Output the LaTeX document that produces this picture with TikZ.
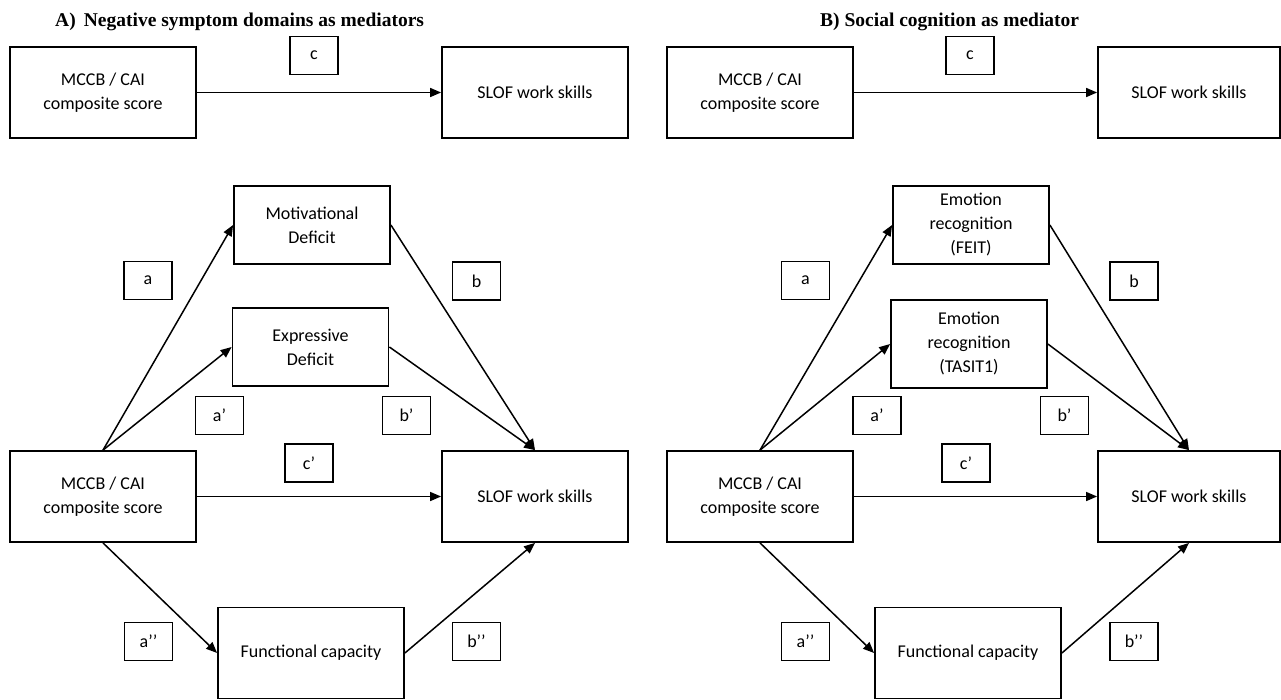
\documentclass[tikz,border=0pt]{standalone}
\usepackage{fontspec}
\setmainfont{Carlito}
\newfontfamily\titlefont{Liberation Serif}
\usetikzlibrary{arrows.meta}
\tikzset{
  bigbox/.style={draw, line width=1.8pt, minimum width=186pt, minimum height=91pt,
    align=center, inner sep=0pt, font=\fontsize{18}{24}\selectfont},
  medbox/.style={draw, line width=1.8pt, minimum width=156pt, minimum height=78pt,
    align=center, inner sep=0pt, font=\fontsize{18}{24}\selectfont},
  lbl/.style={draw, line width=1.6pt, minimum width=48pt, minimum height=38pt,
    inner sep=0pt, font=\fontsize{18}{20}\selectfont},
  arr/.style={-{Triangle[length=11pt,width=9pt]}, line width=1.5pt},
  ttl/.style={font=\titlefont\bfseries\fontsize{19.5}{22}\selectfont, anchor=base west, inner sep=0pt}
}
\begin{document}
\begin{tikzpicture}[x=1pt,y=1pt]
\useasboundingbox[fill=white] (0,0) rectangle (1281,-699);

% ---------- Panel A ----------
\node[ttl] (titleA) at (55,-26) {A)\, Negative symptom domains as mediators};
\node[bigbox] (mccbTA) at (103,-92.5) {MCCB / CAI\\composite score};
\node[bigbox] (slofTA) at (535,-92.5) {SLOF work skills};
\node[lbl] (cA) at (314,-55.5) {c};
\draw[arr] (mccbTA) -- (slofTA);

\node[medbox] (motA) at (312,-225) {Motivational\\Deficit};
\node[medbox] (expA) at (310.5,-347) {Expressive\\Deficit};
\node[lbl] (aA) at (148,-280.5) {a};
\node[lbl] (bA) at (476.5,-281) {b};
\node[lbl] (apA) at (219.5,-415.5) {a’};
\node[lbl] (bpA) at (406.5,-415.5) {b’};
\node[lbl] (cpA) at (309,-463) {c’};
\node[bigbox] (mccbBA) at (103,-496.5) {MCCB / CAI\\composite score};
\node[bigbox] (slofBA) at (535,-496.5) {SLOF work skills};
\node[bigbox] (funcA) at (311,-653) {Functional capacity};
\node[lbl] (appA) at (148.5,-641.5) {a’’};
\node[lbl] (bppA) at (476.5,-641.5) {b’’};

\draw[arr] (mccbBA.north) -- (motA.west);
\draw[arr] (mccbBA.north) -- (expA.west);
\draw[arr] (motA.east) -- (slofBA.north);
\draw[arr] (expA.east) -- (slofBA.north);
\draw[arr] (mccbBA) -- (slofBA);
\draw[arr] (mccbBA.south) -- (funcA.west);
\draw[arr] (funcA.east) -- (slofBA.south);

% ---------- Panel B ----------
\node[ttl] (titleB) at (820,-26) {B) Social cognition as mediator};
\node[bigbox] (mccbTB) at (760,-92.5) {MCCB / CAI\\composite score};
\node[bigbox, minimum width=182pt] (slofTB) at (1189,-92.5) {SLOF work skills};
\node[lbl] (cB) at (970,-55.5) {c};
\draw[arr] (mccbTB) -- (slofTB);

\node[medbox] (feitB) at (971,-225) {Emotion\\recognition\\(FEIT)};
\node[medbox, minimum height=88pt] (tasitB) at (969,-344) {Emotion\\recognition\\(TASIT1)};
\node[lbl] (aB) at (805.5,-280.5) {a};
\node[lbl] (bB) at (1134,-281) {b};
\node[lbl] (apB) at (877,-415.5) {a’};
\node[lbl] (bpB) at (1064.5,-415.5) {b’};
\node[lbl] (cpB) at (966,-463) {c’};
\node[bigbox] (mccbBB) at (760,-496.5) {MCCB / CAI\\composite score};
\node[bigbox, minimum width=182pt] (slofBB) at (1189,-496.5) {SLOF work skills};
\node[bigbox] (funcB) at (968,-653) {Functional capacity};
\node[lbl] (appB) at (805.5,-641.5) {a’’};
\node[lbl] (bppB) at (1134,-641.5) {b’’};

\draw[arr] (mccbBB.north) -- (feitB.west);
\draw[arr] (mccbBB.north) -- (tasitB.west);
\draw[arr] (feitB.east) -- (slofBB.north);
\draw[arr] (tasitB.east) -- (slofBB.north);
\draw[arr] (mccbBB) -- (slofBB);
\draw[arr] (mccbBB.south) -- (funcB.west);
\draw[arr] (funcB.east) -- (slofBB.south);
\end{tikzpicture}
\end{document}
